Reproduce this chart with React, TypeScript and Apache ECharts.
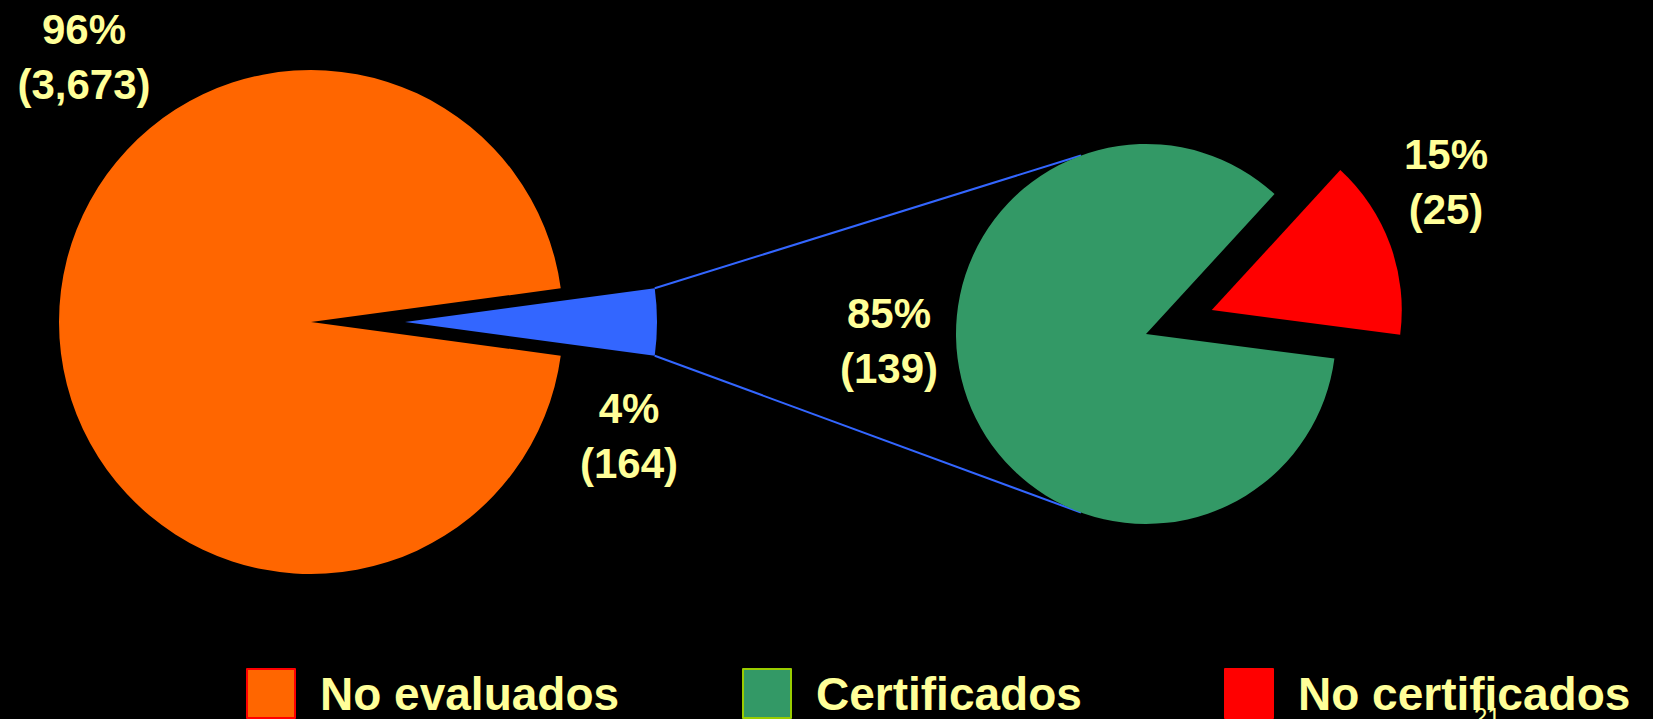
import React, { useEffect, useRef } from "react";
import * as echarts from "echarts";

// ---- data ----
const outerNames = ["Evaluados", "No evaluados"];
const outerValues = [164, 3673];
const outerColors = ["#3366FF", "#FF6600"];

const innerNames = ["No certificados", "Certificados"];
const innerValues = [25, 139];
const innerColors = ["#FF0000", "#339966"];

const legendNames = ["No evaluados", "Certificados", "No certificados"];
const legendFill = ["#FF6600", "#339966", "#FF0000"];
const legendBorder = ["#FF0000", "#99CC00", "#FF0000"];
const legendLeft = [246, 742, 1224];

const pageNumber = "21";

// ---- layout ----
const W = 1653;
const H = 719;
const TEXT = "#FFFF99";
const FONT = "'Liberation Sans', Arial, sans-serif";

const P1 = { cx: 311, cy: 322, r: 252, offset: 94 };
const P2 = { cx: 1146, cy: 334, r: 190, offset: 70, mid: 20 };

const sum = (a: number[]) => a.reduce((s, v) => s + v, 0);
const pct = (v: number, a: number[]) => Math.round((v / sum(a)) * 100) + "%";
const fmt = (v: number) => "(" + v.toLocaleString("en-US") + ")";

export default function App() {
  const ref = useRef<HTMLDivElement>(null);
  useEffect(() => {
    document.body.style.margin = "0";
    document.body.style.background = "#000";
    const chart = echarts.init(ref.current!, null, { renderer: "svg" });

    const blueSpan = (outerValues[0] / sum(outerValues)) * 360;
    const start1 = blueSpan / 2;
    const redSpan = (innerValues[0] / sum(innerValues)) * 360;
    const start2 = P2.mid + redSpan / 2;

    const rad = Math.PI / 180;
    const bx = P1.cx + P1.offset;
    const corner = (sign: number) => [
      bx + P1.r * Math.cos(start1 * rad),
      P1.cy - sign * P1.r * Math.sin(start1 * rad),
    ];
    const tangent = (sign: number) => [
      P2.cx + P2.r * Math.cos(110 * rad),
      P2.cy - sign * P2.r * Math.sin(110 * rad),
    ];
    const c1 = corner(1), c2 = corner(-1), t1 = tangent(1), t2 = tangent(-1);

    const labelText = (x: number, y: number, v: number, arr: number[]) => ({
      type: "text",
      x,
      y,
      style: {
        text: pct(v, arr) + "\n" + fmt(v),
        fill: TEXT,
        font: `bold 42px ${FONT}`,
        lineHeight: 55,
        align: "center",
        verticalAlign: "middle",
      },
    });

    chart.setOption({
      animation: false,
      backgroundColor: "#000000",
      legend: legendNames.map((n, i) => ({
        left: legendLeft[i],
        top: 668,
        padding: 0,
        itemWidth: 48,
        itemHeight: 49,
        icon: "rect",
        selectedMode: false,
        data: [
          {
            name: n,
            itemStyle: { color: legendFill[i], borderColor: legendBorder[i], borderWidth: 2 },
          },
        ],
        textStyle: {
          color: TEXT,
          fontFamily: FONT,
          fontWeight: "bold",
          fontSize: 46,
          padding: [0, 0, 4, 20],
        },
      })),
      series: [
        {
          type: "pie",
          center: [P1.cx, P1.cy],
          radius: P1.r,
          startAngle: start1,
          clockwise: true,
          selectedMode: "multiple",
          selectedOffset: P1.offset,
          silent: true,
          label: { show: false },
          labelLine: { show: false },
          emphasis: { disabled: true },
          data: outerNames.map((n, i) => ({
            name: n,
            value: outerValues[i],
            selected: i === 0,
            itemStyle: { color: outerColors[i] },
          })),
        },
        {
          type: "pie",
          center: [P2.cx, P2.cy],
          radius: P2.r,
          startAngle: start2,
          clockwise: true,
          selectedMode: "multiple",
          selectedOffset: P2.offset,
          silent: true,
          label: { show: false },
          labelLine: { show: false },
          emphasis: { disabled: true },
          data: innerNames.map((n, i) => ({
            name: n,
            value: innerValues[i],
            selected: i === 0,
            itemStyle: { color: innerColors[i] },
          })),
        },
      ],
      graphic: [
        {
          type: "line",
          shape: { x1: c1[0], y1: c1[1], x2: t1[0], y2: t1[1] },
          style: { stroke: "#3366FF", lineWidth: 2 },
        },
        {
          type: "line",
          shape: { x1: c2[0], y1: c2[1], x2: t2[0], y2: t2[1] },
          style: { stroke: "#3366FF", lineWidth: 2 },
        },
        labelText(84, 57, outerValues[1], outerValues),
        labelText(629, 436, outerValues[0], outerValues),
        labelText(889, 341, innerValues[1], innerValues),
        labelText(1446, 182, innerValues[0], innerValues),
        {
          type: "text",
          x: 1474,
          y: 704,
          style: {
            text: pageNumber,
            fill: TEXT,
            font: `24px ${FONT}`,
            verticalAlign: "top",
          },
        },
      ],
    });
    return () => chart.dispose();
  }, []);
  return <div ref={ref} style={{ width: W, height: H }} />;
}
